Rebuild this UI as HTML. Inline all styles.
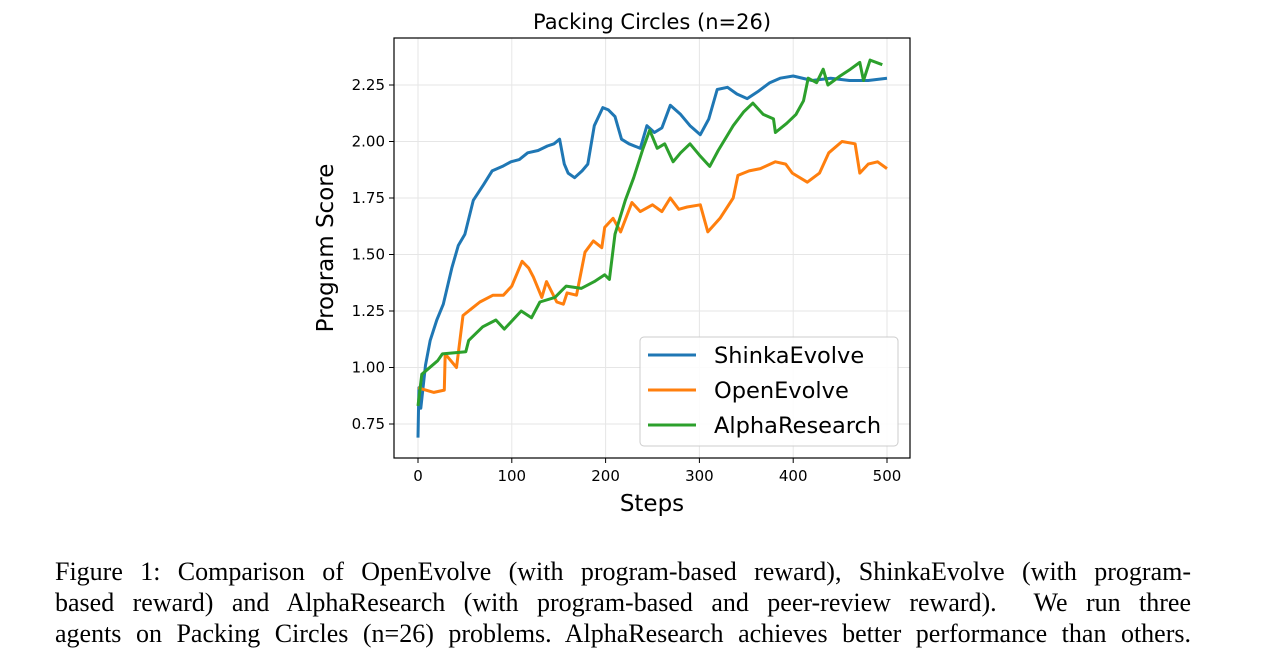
<!DOCTYPE html>
<html><head><meta charset="utf-8"><style>
html,body{margin:0;padding:0;background:#fff;width:1262px;height:666px;overflow:hidden}
svg text{font-family:"DejaVu Sans","Liberation Sans",sans-serif}
.cap{position:absolute;left:55px;width:1136px;font-family:"Liberation Serif",serif;font-size:26px;line-height:31px;color:#000;white-space:nowrap}
.j{text-align:justify;text-align-last:justify;white-space:normal}
</style></head><body>
<svg id="chart" width="1262" height="540" style="position:absolute;left:0;top:0">
<g id="grid"></g><g id="series"></g><g id="axes"></g>
</svg>
<div>
<div class="cap j" style="top:556px">Figure 1: Comparison of OpenEvolve (with program-based reward), ShinkaEvolve (with program-</div>
<div class="cap j" style="top:587px">based reward) and AlphaResearch (with program-based and peer-review reward). &nbsp;We run three</div>
<div class="cap j" style="top:618px">agents on Packing Circles (n=26) problems. AlphaResearch achieves better performance than others.</div>
</div>
<script>
const xTicks=[0,100,200,300,400,500];
const yTicks=[0.75,1.00,1.25,1.50,1.75,2.00,2.25];
const yTickLabels=["0.75","1.00","1.25","1.50","1.75","2.00","2.25"];
const seriesNames=["ShinkaEvolve","OpenEvolve","AlphaResearch"];
const seriesColors=["#1f77b4","#ff7f0e","#2ca02c"];
const shinkaSteps=[0,1,3,8,13,20,27,36,43,50,59,70,79,90,99,108,117,128,138,145,151,156,160,167,175,181,188,197,203,210,217,225,237,244,252,260,269,280,290,301,310,319,330,340,351,362,375,386,400,420,440,460,480,500];
const shinkaVals=[0.69,0.91,0.82,1.01,1.12,1.21,1.28,1.44,1.54,1.59,1.74,1.81,1.87,1.89,1.91,1.92,1.95,1.96,1.98,1.99,2.01,1.90,1.86,1.84,1.87,1.90,2.07,2.15,2.14,2.11,2.01,1.99,1.97,2.07,2.04,2.06,2.16,2.12,2.07,2.03,2.10,2.23,2.24,2.21,2.19,2.22,2.26,2.28,2.29,2.27,2.28,2.27,2.27,2.28];
const openSteps=[0,17,28,29,41,48,57,66,80,91,100,111,118,123,132,137,148,155,159,169,178,187,196,199,208,216,228,237,250,260,269,278,287,301,309,322,336,341,353,365,381,392,399,415,428,438,452,466,471,480,490,500];
const openVals=[0.91,0.89,0.90,1.06,1.00,1.23,1.26,1.29,1.32,1.32,1.36,1.47,1.44,1.40,1.31,1.38,1.29,1.28,1.33,1.32,1.51,1.56,1.53,1.62,1.66,1.60,1.73,1.69,1.72,1.69,1.75,1.70,1.71,1.72,1.60,1.66,1.75,1.85,1.87,1.88,1.91,1.90,1.86,1.82,1.86,1.95,2.00,1.99,1.86,1.90,1.91,1.88];
const alphaSteps=[0,4,21,26,51,54,69,83,92,110,121,130,146,158,174,188,199,204,210,221,230,240,247,255,263,272,280,290,300,311,320,336,347,357,368,379,381,393,403,411,416,425,432,437,450,461,471,475,482,495];
const alphaVals=[0.83,0.97,1.03,1.06,1.07,1.12,1.18,1.21,1.17,1.25,1.22,1.29,1.31,1.36,1.35,1.38,1.41,1.39,1.59,1.74,1.84,1.97,2.05,1.97,1.99,1.91,1.95,1.99,1.94,1.89,1.96,2.07,2.13,2.17,2.12,2.10,2.04,2.08,2.12,2.18,2.28,2.26,2.32,2.25,2.29,2.32,2.35,2.27,2.36,2.34];
const L=394,R=910,T=38,B=458;
const xs=v=>418+v*(887-418)/500;
const ys=v=>424-(v-0.75)*(424-85)/1.5;
const NS="http://www.w3.org/2000/svg";
function mk(tag,attrs,parent){const e=document.createElementNS(NS,tag);for(const k in attrs)e.setAttribute(k,attrs[k]);parent.appendChild(e);return e;}
const grid=document.getElementById('grid'),axes=document.getElementById('axes'),ser=document.getElementById('series');
xTicks.forEach(t=>{
 const g=mk('line',{x1:xs(t),x2:xs(t),y1:T,y2:B,stroke:'#e6e6e6','stroke-width':1},grid);
 
 
 mk('line',{x1:xs(t),x2:xs(t),y1:B,y2:B+5,stroke:'#000'},axes);
 const tx=mk('text',{x:xs(t),y:B+23,'font-size':15,'text-anchor':'middle'},axes);tx.textContent=t;
 
 
});
yTicks.forEach((t,i)=>{
 const g=mk('line',{x1:L,x2:R,y1:ys(t),y2:ys(t),stroke:'#e6e6e6','stroke-width':1},grid);
 
 
 mk('line',{x1:L-5,x2:L,y1:ys(t),y2:ys(t),stroke:'#000'},axes);
 const tx=mk('text',{x:L-9,y:ys(t)+5,'font-size':15,'text-anchor':'end'},axes);tx.textContent=yTickLabels[i];
 
 
});
const data=[[shinkaSteps,shinkaVals],[openSteps,openVals],[alphaSteps,alphaVals]];
const names=['shinka-line','open-line','alpha-line'];
data.forEach((d,i)=>{
 const pts=d[0].map((s,j)=>xs(s).toFixed(1)+','+ys(d[1][j]).toFixed(1)).join(' ');
 const p=mk('polyline',{points:pts,fill:'none',stroke:seriesColors[i],'stroke-width':3,'stroke-linejoin':'round'},ser);
 
 
});
const frame=mk('rect',{x:L,y:T,width:R-L,height:B-T,fill:'none',stroke:'#000','stroke-width':1.2},axes);


const title=mk('text',{x:652,y:29,'font-size':21,'text-anchor':'middle'},axes);title.textContent='Packing Circles (n=26)';


const xl=mk('text',{x:652,y:511,'font-size':23,'text-anchor':'middle'},axes);xl.textContent='Steps';


const yl=mk('text',{x:0,y:0,'font-size':23,'text-anchor':'middle',transform:'translate(333,248) rotate(-90)'},axes);yl.textContent='Program Score';


const lg=mk('rect',{x:640,y:337,width:258,height:109,rx:4,fill:'#fff','fill-opacity':0.85,stroke:'#ccc'},axes);


seriesNames.forEach((n,i)=>{
 const y=355+i*35;
 mk('line',{x1:648,x2:696,y1:y,y2:y,stroke:seriesColors[i],'stroke-width':3},axes);
 const t=mk('text',{x:714,y:y+8,'font-size':22.5},axes);t.textContent=n;
 
 
});
</script>
</body></html>
